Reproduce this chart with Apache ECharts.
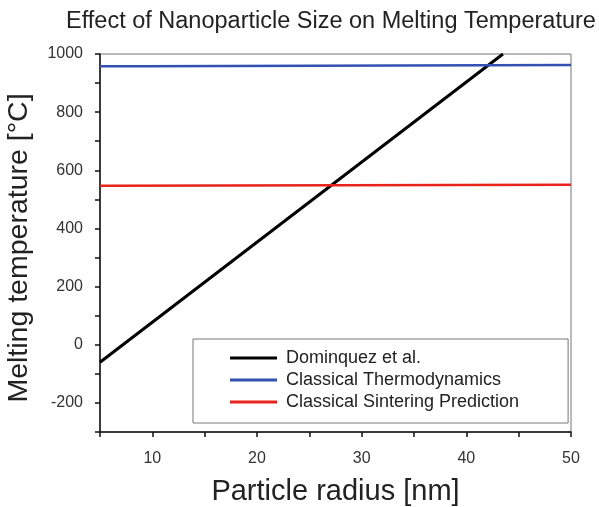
<!DOCTYPE html>
<html><head><meta charset="utf-8">
<script src="https://cdn.jsdelivr.net/npm/echarts@6/dist/echarts.min.js"></script>
<style>html,body{margin:0;padding:0;background:#fff}#c{width:599px;height:507px}</style>
</head><body><div id="c"></div>
<script>
var titleText = 'Effect of Nanoparticle Size on Melting Temperature';
var xName = 'Particle radius [nm]';
var yName = 'Melting temperature [°C]';
var seriesNames = ['Dominquez et al.', 'Classical Thermodynamics', 'Classical Sintering Prediction'];
var dominquez = [[5, -60], [43.5, 1000]];
var thermo = [[5, 958], [9, 958], [9, 962], [50, 962]];
var sintering = [[5, 547], [6, 547], [6, 550], [50, 550]];
var colors = ['#000000', '#3350b3', '#e8231b'];
var font = 'Liberation Sans, Arial, sans-serif';

var chart = echarts.init(document.getElementById('c'), null, {renderer: 'canvas'});
chart.setOption({
  animation: false,
  backgroundColor: '#fff',
  title: {text: titleText, left: 61, top: 5, textStyle: {fontFamily: font, fontSize: 23.5, fontWeight: 'normal', color: '#222'}},
  grid: {left: 100, right: 28, top: 54, bottom: 75, show: true, borderColor: '#777', borderWidth: 1, containLabel: false, outerBoundsMode: 'none'},
  legend: {
    orient: 'vertical', left: 193, top: 339,
    padding: [10, 49, 12, 37], itemGap: 4,
    itemWidth: 47, itemHeight: 3, icon: 'rect',
    borderColor: '#777', borderWidth: 1, backgroundColor: '#fff',
    textStyle: {fontFamily: font, fontSize: 18, color: '#222', padding: [0, 0, 0, 4]},
    data: seriesNames
  },
  xAxis: {
    type: 'value', min: 5, max: 50, interval: 5,
    name: xName, nameLocation: 'middle', nameGap: 45,
    nameTextStyle: {fontFamily: font, fontSize: 29, color: '#222'},
    axisLine: {show: true, onZero: false, lineStyle: {color: '#111', width: 1.5}},
    axisTick: {show: true, length: 5, lineStyle: {color: '#111', width: 1.5}},
    axisLabel: {margin: 19, fontFamily: font, fontSize: 16, color: '#333',
      formatter: function (v) { return v % 10 === 0 ? String(v) : ''; }},
    splitLine: {show: false}
  },
  yAxis: {
    type: 'value', min: -300, max: 1000, interval: 100,
    name: yName, nameLocation: 'middle', nameGap: 66,
    nameTextStyle: {fontFamily: font, fontSize: 28.5, color: '#222', padding: [0, 10, 0, 0]},
    axisLine: {show: true, onZero: false, lineStyle: {color: '#111', width: 1.5}},
    axisTick: {show: true, length: 5, lineStyle: {color: '#111', width: 1.5}},
    axisLabel: {margin: 17, fontFamily: font, fontSize: 16, color: '#333',
      formatter: function (v) { return (v % 200 === 0) ? String(v) : ''; }},
    splitLine: {show: false}
  },
  series: [
    {name: seriesNames[0], type: 'line', data: dominquez, symbol: 'none', clip: true, lineStyle: {color: colors[0], width: 3}, itemStyle: {color: colors[0]}},
    {name: seriesNames[1], type: 'line', data: thermo, symbol: 'none', clip: true, lineStyle: {color: colors[1], width: 2.5}, itemStyle: {color: colors[1]}},
    {name: seriesNames[2], type: 'line', data: sintering, symbol: 'none', clip: true, lineStyle: {color: colors[2], width: 2.5}, itemStyle: {color: colors[2]}}
  ]
});
</script></body></html>
